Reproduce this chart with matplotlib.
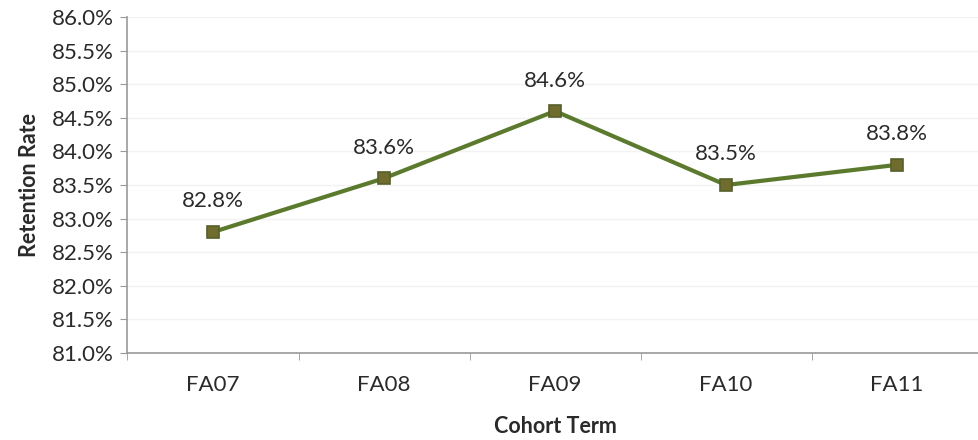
import numpy as np
import matplotlib.pyplot as plt
from matplotlib.ticker import FuncFormatter, MultipleLocator

terms = ["FA07", "FA08", "FA09", "FA10", "FA11"]
rates = [82.8, 83.6, 84.6, 83.5, 83.8]

plt.rcParams['font.family'] = ['Lato', 'DejaVu Sans']

fig = plt.figure(figsize=(9.79, 4.4), dpi=100)
ax = fig.add_axes([127.5/979, 87/440, 855/979, 336/440])

x = np.arange(len(terms))
ax.plot(x, rates, color="#5b7a2d", lw=3, marker="s", ms=8,
        markerfacecolor="#6f6c2e", markeredgecolor="#55602a", markeredgewidth=1.2,
        zorder=3)
for xi, r in zip(x, rates):
    ax.annotate(f"{r:.1f}%", (xi, r), xytext=(0, 22), textcoords="offset points",
                ha="center", va="center", fontsize=16, color="#2a2a2a")

ax.set_xlim(-0.5, 4.5)
ax.set_ylim(81, 86)
ax.yaxis.set_major_locator(MultipleLocator(0.5))
ax.yaxis.set_major_formatter(FuncFormatter(lambda v, p: f"{v:.1f}%"))
ax.set_xticks(x)
ax.set_xticklabels(terms)
ax.set_xticks(np.arange(-0.5, 5.0, 1.0), minor=True)
ax.tick_params(axis="x", which="major", length=0, pad=16, labelsize=16, labelcolor="#2a2a2a")
ax.tick_params(axis="x", which="minor", length=5, color="#999999", direction="out")
ax.tick_params(axis="y", length=5, color="#999999", labelsize=16, labelcolor="#2a2a2a", pad=5)

ax.grid(axis="y", color="#f2f2f2", lw=1)
ax.set_axisbelow(True)
for s in ["top", "right"]:
    ax.spines[s].set_visible(False)
for s in ["left", "bottom"]:
    ax.spines[s].set_color("#999999")
    ax.spines[s].set_linewidth(1.2)

ax.set_xlabel("Cohort Term", fontsize=15.5, fontweight="bold", color="#2a2a2a", labelpad=15)
ax.set_ylabel("Retention Rate", fontsize=15.5, fontweight="bold", color="#2a2a2a", labelpad=8)

fig.savefig("out.png", dpi=100)
